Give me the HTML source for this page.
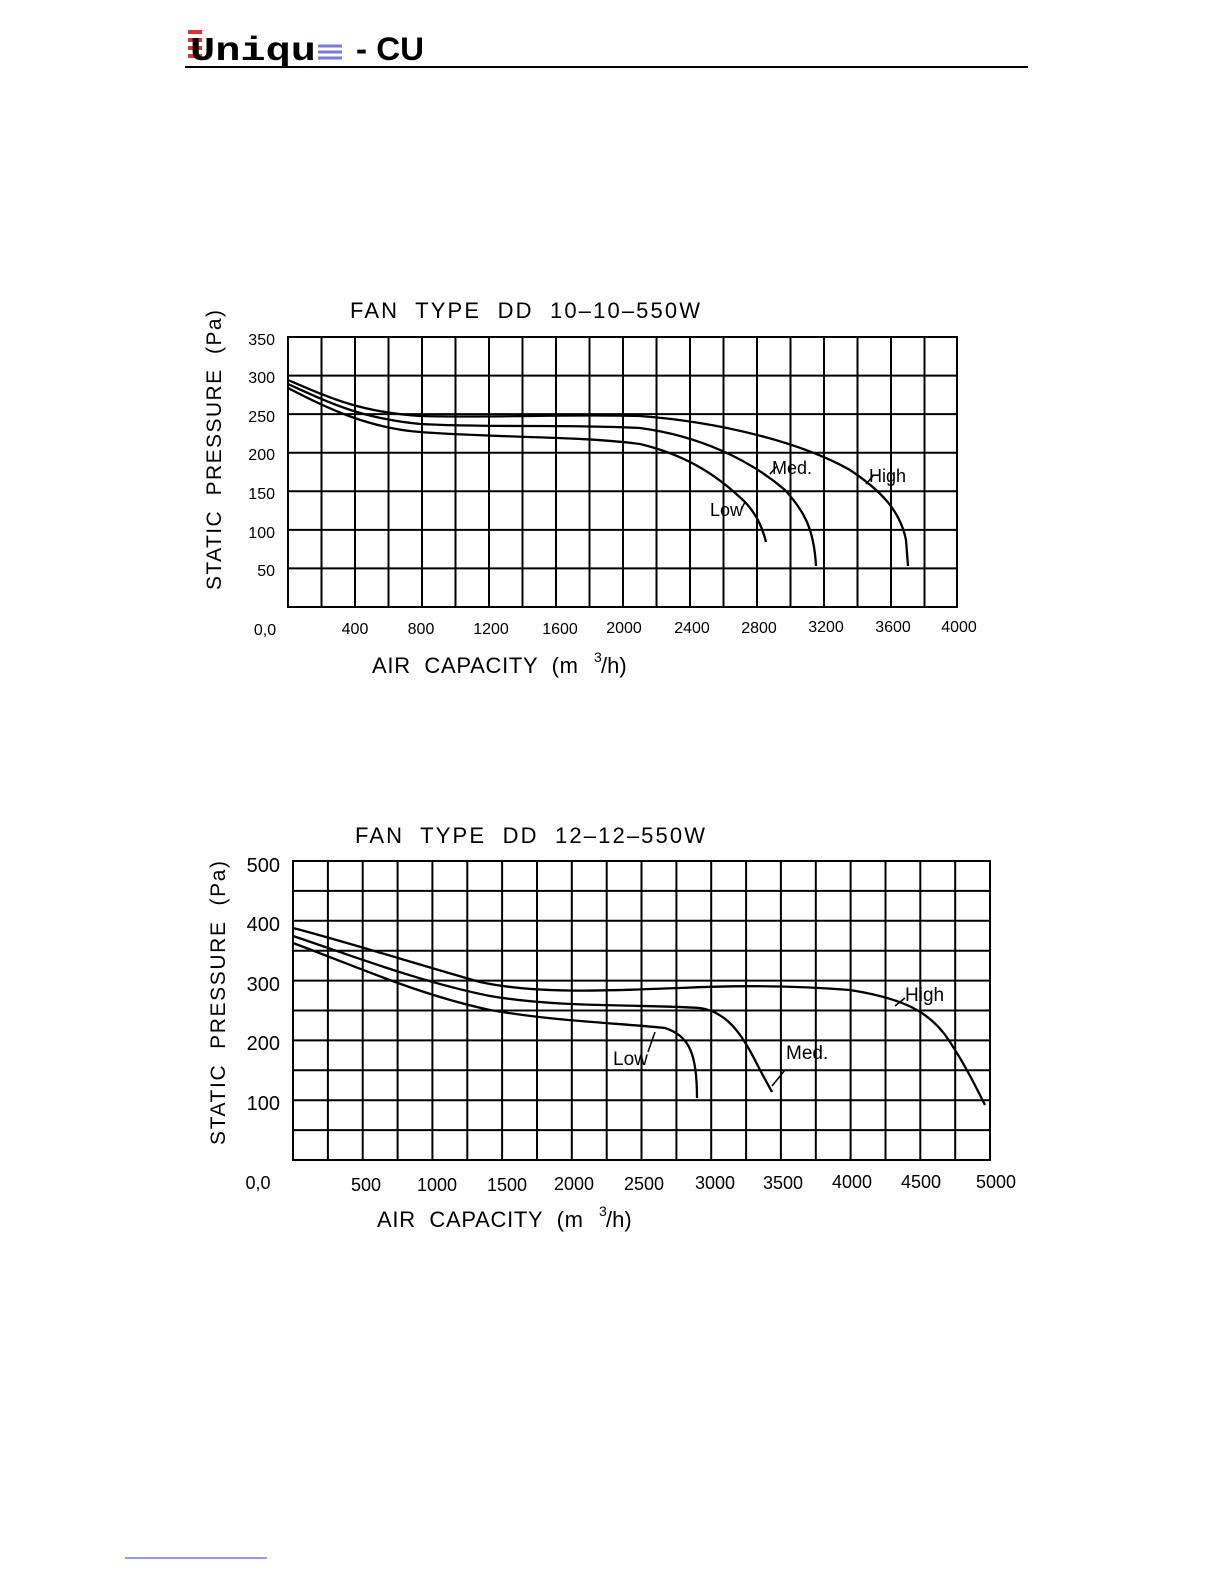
<!DOCTYPE html>
<html><head><meta charset="utf-8"><style>
body{margin:0;background:#fff;}
svg{display:block;}
text{font-family:"Liberation Sans",sans-serif;fill:#000;white-space:pre;}
</style></head><body>
<svg width="1224" height="1584" viewBox="0 0 1224 1584" xmlns="http://www.w3.org/2000/svg">
<!-- header -->
<rect x="188" y="30" width="14" height="4" fill="#d33"/>
<rect x="188" y="38" width="14" height="4" fill="#d33"/>
<rect x="188" y="46" width="14" height="4" fill="#d33"/>
<rect x="188" y="54" width="14" height="4" fill="#d33"/>
<text x="190" y="60" font-size="33" font-weight="bold" style="font-family:'Liberation Mono',monospace" textLength="126" lengthAdjust="spacingAndGlyphs">Uniqu</text>
<g stroke="#7a7ae0" stroke-width="3"><line x1="318" y1="46" x2="342" y2="46"/><line x1="318" y1="52" x2="342" y2="52"/><line x1="318" y1="58" x2="342" y2="58"/></g>
<text x="356" y="60" font-size="32" font-weight="bold" textLength="68" lengthAdjust="spacingAndGlyphs">- CU</text>
<line x1="185" y1="67" x2="1028" y2="67" stroke="#000" stroke-width="2"/>
<line x1="125" y1="1558" x2="267" y2="1558" stroke="#33c" stroke-width="1"/>

<!-- chart 1 -->
<text x="350" y="318" font-size="22" textLength="350">FAN  TYPE  DD  10–10–550W</text>
<text transform="translate(221,590) rotate(-90)" font-size="21" textLength="280">STATIC  PRESSURE  (Pa)</text>
<g font-size="16" text-anchor="end">
<text x="275" y="345">350</text><text x="275" y="383">300</text><text x="275" y="422">250</text>
<text x="275" y="460">200</text><text x="275" y="499">150</text><text x="275" y="538">100</text><text x="275" y="576">50</text>
</g>
<g font-size="16" text-anchor="middle">
<text x="265" y="635">0,0</text><text x="355" y="634">400</text><text x="421" y="634">800</text><text x="491" y="634">1200</text>
<text x="560" y="634">1600</text><text x="624" y="633">2000</text><text x="692" y="633">2400</text><text x="759" y="633">2800</text>
<text x="826" y="632">3200</text><text x="893" y="632">3600</text><text x="959" y="632">4000</text>
</g>
<text x="372" y="673" font-size="22" textLength="206">AIR  CAPACITY  (m</text>
<text x="594" y="662" font-size="14">3</text>
<text x="601" y="673" font-size="22">/h)</text>
<g stroke="#000" stroke-width="2" fill="none">
<rect x="288" y="337" width="669" height="270"/>
<path d="M321.5 337V607M355 337V607M388.5 337V607M422 337V607M455.5 337V607M489 337V607M522.5 337V607M556 337V607M589.5 337V607M623 337V607M656.5 337V607M690 337V607M723.5 337V607M757 337V607M790.5 337V607M824 337V607M857.5 337V607M891 337V607M924.5 337V607M288 375.6H957M288 414.1H957M288 452.7H957M288 491.3H957M288 529.9H957M288 568.4H957"/>
</g>
<g stroke="#000" stroke-width="2.3" fill="none">
<path d="M288 380 C330 398 360 412 420 416 C500 418 560 414 640 416 C720 422 800 442 850 470 C880 490 900 510 906 540 L908 566"/>
<path d="M288 384 C330 403 360 418 420 424 C500 428 560 424 640 428 C700 436 750 460 785 490 C805 512 814 530 816 566"/>
<path d="M288 388 C330 410 370 428 420 432 C500 438 580 436 640 444 C690 456 720 478 745 502 C758 516 763 530 766 542"/>
<path d="M770 474 L777 466 M866 484 L873 476 M745 502 L741 510" stroke-width="1.5"/>
</g>
<g font-size="18"><text x="772" y="474">Med.</text><text x="869" y="482">High</text><text x="710" y="516">Low</text></g>

<!-- chart 2 -->
<text x="355" y="843" font-size="22" textLength="350">FAN  TYPE  DD  12–12–550W</text>
<text transform="translate(225,1145) rotate(-90)" font-size="21" textLength="284">STATIC  PRESSURE  (Pa)</text>
<g font-size="20" text-anchor="end">
<text x="280" y="872">500</text><text x="280" y="931">400</text><text x="280" y="991">300</text>
<text x="280" y="1050">200</text><text x="280" y="1110">100</text>
</g>
<g font-size="18" text-anchor="middle">
<text x="258" y="1189">0,0</text><text x="366" y="1191">500</text><text x="437" y="1191">1000</text><text x="507" y="1191">1500</text>
<text x="574" y="1190">2000</text><text x="644" y="1190">2500</text><text x="715" y="1189">3000</text><text x="783" y="1189">3500</text>
<text x="852" y="1188">4000</text><text x="921" y="1188">4500</text><text x="996" y="1188">5000</text>
</g>
<text x="377" y="1227" font-size="22" textLength="206">AIR  CAPACITY  (m</text>
<text x="599" y="1216" font-size="14">3</text>
<text x="606" y="1227" font-size="22">/h)</text>
<g stroke="#000" stroke-width="2" fill="none">
<rect x="293" y="861" width="697" height="299"/>
<path d="M327.9 861V1160M362.7 861V1160M397.6 861V1160M432.4 861V1160M467.3 861V1160M502.1 861V1160M537 861V1160M571.8 861V1160M606.7 861V1160M641.5 861V1160M676.4 861V1160M711.2 861V1160M746.1 861V1160M780.9 861V1160M815.8 861V1160M850.6 861V1160M885.5 861V1160M920.3 861V1160M955.2 861V1160M293 890.9H990M293 920.8H990M293 950.7H990M293 980.6H990M293 1010.5H990M293 1040.4H990M293 1070.3H990M293 1100.2H990M293 1130.1H990"/>
</g>
<g stroke="#000" stroke-width="2.3" fill="none">
<path d="M293 928 C340 940 420 965 480 982 C540 995 620 990 680 988 C740 985 800 986 850 990 C900 998 930 1010 950 1042 C965 1065 975 1085 985 1105"/>
<path d="M293 936 C350 955 420 982 490 996 C560 1008 640 1004 700 1008 C730 1012 745 1040 760 1070 L772 1092"/>
<path d="M293 943 C360 968 420 995 490 1010 C560 1022 620 1023 665 1028 C690 1036 697 1055 697 1098"/>
<path d="M655 1032 L648 1052 M772 1086 L785 1070 M895 1006 L905 998" stroke-width="1.5"/>
</g>
<g font-size="19"><text x="613" y="1065">Low</text><text x="786" y="1059">Med.</text><text x="905" y="1001">High</text></g>
</svg>
</body></html>
